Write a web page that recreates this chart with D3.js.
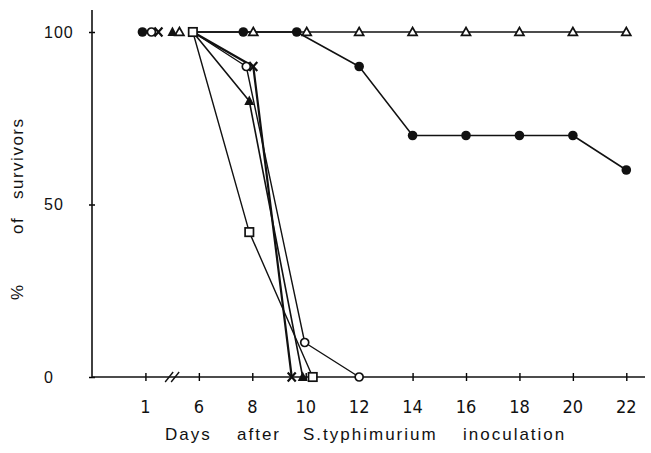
<!DOCTYPE html>
<html>
<head>
<meta charset="utf-8">
<script src="https://cdn.jsdelivr.net/npm/d3@7"></script>
<style>
  html, body { margin: 0; padding: 0; background: #fff; }
  #chart { width: 651px; height: 453px; }
  text { font-family: "Liberation Sans", Arial, sans-serif; fill: #111; }
</style>
</head>
<body>
<div id="chart"></div>
<script>
// Survival after S.typhimurium inoculation
const dayTicks = [1, 6, 8, 10, 12, 14, 16, 18, 20, 22];
const yTicks = [0, 50, 100];

const filledCircleDays = [1, 6, 8, 10, 12, 14, 16, 18, 20, 22];
const filledCircleVals = [100, 100, 100, 100, 90, 70, 70, 70, 70, 60];
const openTriangleDays = [1, 6, 8, 10, 12, 14, 16, 18, 20, 22];
const openTriangleVals = [100, 100, 100, 100, 100, 100, 100, 100, 100, 100];
const openCircleDays = [1, 6, 8, 10, 12];
const openCircleVals = [100, 100, 90, 10, 0];
const crossDays = [1, 6, 8, 10];
const crossVals = [100, 100, 90, 0];
const filledTriangleDays = [1, 6, 8, 10];
const filledTriangleVals = [100, 100, 80, 0];
const openSquareDays = [6, 8, 10];
const openSquareVals = [100, 42, 0];

const xTitleWords = ["Days", "after", "S.typhimurium", "inoculation"];
const yTitleWords = ["%", "of", "survivors"];

(function() {
  const width = 651, height = 453;

  // small pixel nudges so that overlapping symbols stay visible (like the original)
  const nudge = {
    filledCircle:   { 1: -3, 6: -6, 8: -9, 10: -9 },
    openTriangle:   { 1: 34, 6: -6, 8: 1, 10: 1 },
    openCircle:     { 1: 6, 6: -6, 8: -6, 10: -1 },
    cross:          { 1: 13, 6: -6, 8: 1, 10: -14 },
    filledTriangle: { 1: 27, 6: -6, 8: -3, 10: -3 },
    openSquare:     { 6: -6, 8: -3, 10: 7 }
  };

  const series = [
    { key: "filledCircle", days: filledCircleDays, vals: filledCircleVals, lw: 1.5 },
    { key: "openTriangle", days: openTriangleDays, vals: openTriangleVals, lw: 1.3 },
    { key: "openCircle", days: openCircleDays, vals: openCircleVals, lw: 1.4 },
    { key: "cross", days: crossDays, vals: crossVals, lw: 2.2 },
    { key: "filledTriangle", days: filledTriangleDays, vals: filledTriangleVals, lw: 1.6 },
    { key: "openSquare", days: openSquareDays, vals: openSquareVals, lw: 1.4 }
  ];

  // broken axis: day 1 sits in the slot of day 4
  const slot = d => d < 6 ? d + 3 : d;

  const x = d3.scaleLinear().domain([2, 22.7]).range([92, 645]);
  const y = d3.scaleLinear().domain([0, 100]).range([377, 32]);

  const svg = d3.select("#chart").append("svg")
    .attr("width", width)
    .attr("height", height);

  // y axis
  const yAxis = svg.append("g")
    .attr("transform", `translate(${x(2)},0)`)
    .call(d3.axisLeft(y).tickValues(yTicks).tickSize(3).tickSizeOuter(0).tickFormat(""));
  yAxis.select(".domain").remove();
  yAxis.selectAll(".tick line").attr("x2", 3).attr("x1", -3).attr("stroke-width", 1.5);
  svg.append("line")
    .attr("x1", x(2)).attr("x2", x(2))
    .attr("y1", y(0)).attr("y2", 10)
    .attr("stroke", "#111").attr("stroke-width", 1.6);

  svg.selectAll(".ylab")
    .data(yTicks)
    .enter().append("text")
    .attr("class", "ylab")
    .attr("x", 44)
    .attr("y", d => y(d))
    .attr("dy", "0.36em")
    .attr("font-size", 16)
    .attr("letter-spacing", 1)
    .text(d => d);

  // x axis
  const xAxis = svg.append("g")
    .attr("transform", `translate(0,${y(0)})`)
    .call(d3.axisBottom(x).tickValues(dayTicks.map(slot)).tickSize(4).tickSizeOuter(0).tickFormat(""));
  xAxis.select(".domain").remove();
  xAxis.selectAll(".tick line").attr("y1", -4).attr("y2", 4).attr("stroke-width", 1.4);
  svg.append("line")
    .attr("x1", x(2)).attr("x2", x(22.7))
    .attr("y1", y(0)).attr("y2", y(0))
    .attr("stroke", "#111").attr("stroke-width", 1.6);

  // axis break marks
  [-3, 3].forEach(o => {
    svg.append("line")
      .attr("x1", x(5) + o - 4).attr("x2", x(5) + o + 4)
      .attr("y1", y(0) + 5).attr("y2", y(0) - 5)
      .attr("stroke", "#111").attr("stroke-width", 1.4);
  });

  svg.selectAll(".xlab")
    .data(dayTicks)
    .enter().append("text")
    .attr("class", "xlab")
    .attr("x", d => x(slot(d)))
    .attr("y", 413)
    .attr("text-anchor", "middle")
    .attr("font-size", 18)
    .style("font-family", "'Liberation Sans Narrow', 'DejaVu Sans Condensed', 'Liberation Sans', sans-serif")
    .text(d => d);

  // titles, words spread out as in the original
  const xTitle = svg.append("text")
    .attr("y", 440)
    .attr("font-size", 17)
    .attr("letter-spacing", 2);
  const xWordPos = [165, 237, 303, 463];
  xTitleWords.forEach((w, i) => xTitle.append("tspan").attr("x", xWordPos[i]).text(w));

  const yTitle = svg.append("text")
    .attr("transform", "translate(23,0) rotate(-90)")
    .attr("font-size", 17)
    .attr("letter-spacing", 1.5);
  const yWordPos = [-300, -234, -199];
  yTitleWords.forEach((w, i) => yTitle.append("tspan").attr("x", yWordPos[i]).text(w));

  // points
  const pts = s => s.days.map((d, i) => ({
    key: s.key,
    day: d,
    val: s.vals[i],
    px: x(slot(d)) + ((nudge[s.key] || {})[d] || 0),
    py: y(s.vals[i])
  }));

  const line = d3.line().x(d => d.px).y(d => d.py);

  series.forEach(s => {
    const p = pts(s).filter(d => d.day >= 6);
    svg.append("path")
      .datum(p)
      .attr("fill", "none")
      .attr("stroke", "#111")
      .attr("stroke-width", s.lw)
      .attr("stroke-linejoin", "round")
      .attr("d", line);
  });

  function drawMarker(g, key) {
    if (key === "filledCircle") {
      g.append("circle").attr("r", 4.8).attr("fill", "#111");
    } else if (key === "openCircle") {
      g.append("circle").attr("r", 4).attr("fill", "#fff").attr("stroke", "#111").attr("stroke-width", 1.7);
    } else if (key === "cross") {
      g.append("path").attr("d", "M-4,-4.5L4,4.5M-4,4.5L4,-4.5")
        .attr("stroke", "#111").attr("stroke-width", 2.2);
    } else if (key === "filledTriangle") {
      g.append("path").attr("d", "M0,-5.5L5,4L-5,4Z").attr("fill", "#111");
    } else if (key === "openTriangle") {
      g.append("path").attr("d", "M0,-4.5L4.5,3.4L-4.5,3.4Z")
        .attr("fill", "#fff").attr("stroke", "#111").attr("stroke-width", 1.7);
    } else if (key === "openSquare") {
      g.append("rect").attr("x", -4.2).attr("y", -4.2).attr("width", 8.4).attr("height", 8.4)
        .attr("fill", "#fff").attr("stroke", "#111").attr("stroke-width", 1.7);
    }
  }

  // markers (day 6 hidden under the square, as in the original)
  series.forEach(s => {
    pts(s).filter(d => d.day !== 6 || s.key === "openSquare").forEach(d => {
      const g = svg.append("g").attr("transform", `translate(${d.px},${d.py})`);
      drawMarker(g, s.key);
    });
  });
})();
</script>
</body>
</html>
